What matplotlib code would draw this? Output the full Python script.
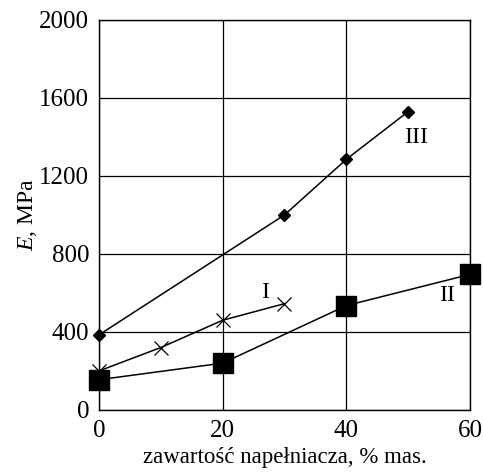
import matplotlib
matplotlib.use("Agg")
import matplotlib.pyplot as plt

plt.rcParams['font.family'] = ['Liberation Serif', 'DejaVu Serif']
plt.rcParams['mathtext.fontset'] = 'custom'
plt.rcParams['mathtext.it'] = 'Liberation Serif:italic'
plt.rcParams['mathtext.rm'] = 'Liberation Serif'

# filler content, % mas.
x_I = [0, 10, 20, 30]
E_I = [200, 320, 460, 545]
x_II = [0, 20, 40, 60]
E_II = [155, 240, 535, 695]
x_III = [0, 30, 40, 50]
E_III = [385, 1000, 1285, 1530]

xticks = [0, 20, 40, 60]
yticks = [0, 400, 800, 1200, 1600, 2000]

fig = plt.figure(figsize=(4.83, 4.75), dpi=100)
ax = fig.add_axes([0.205, 0.137, 0.768, 0.821])

ax.plot(x_III, E_III, color='black', lw=1.1, marker='D', ms=6, clip_on=False, zorder=3)
ax.plot(x_I, E_I, color='black', lw=1.1, marker='x', ms=10, mew=0.9, clip_on=False, zorder=3)
ax.plot(x_II, E_II, color='black', lw=1.1, marker='s', ms=14, clip_on=False, zorder=3)

ax.text(26.8, 600, 'I', fontsize=17, ha='center', va='center')
ax.text(56.3, 585, 'II', fontsize=17, ha='center', va='center')
ax.text(51.3, 1395, 'III', fontsize=17, ha='center', va='center')

ax.set_xlim(0, 60)
ax.set_ylim(0, 2000)
ax.set_xticks(xticks)
ax.set_yticks(yticks)
ax.tick_params(length=0, labelsize=18, pad=7)
ax.grid(True, color='black', lw=0.9)
for s in ax.spines.values():
    s.set_linewidth(1.0)

ax.set_xlabel('zawartość napełniacza, % mas.', fontsize=16.5, labelpad=4)
ax.set_ylabel('$E$, MPa', fontsize=17, labelpad=0)

fig.savefig('out.png', dpi=100)
